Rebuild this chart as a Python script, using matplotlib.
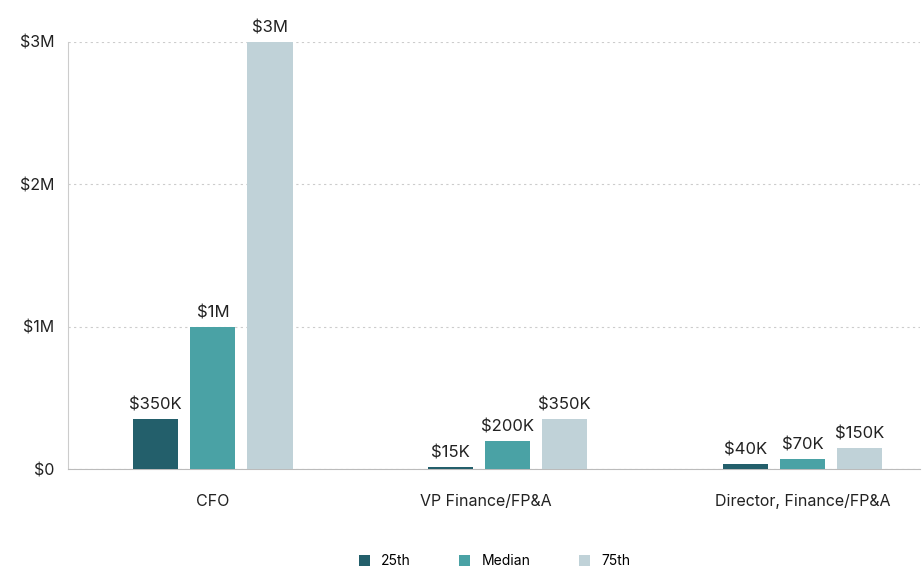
import matplotlib.pyplot as plt
import numpy as np

plt.rcParams["font.family"] = ["Inter", "DejaVu Sans"]

categories = ["CFO", "VP Finance/FP&A", "Director, Finance/FP&A"]
series_names = ["25th", "Median", "75th"]
p25 = [350_000, 15_000, 40_000]
median = [1_000_000, 200_000, 70_000]
p75 = [3_000_000, 350_000, 150_000]
value_labels = [["$350K", "$15K", "$40K"], ["$1M", "$200K", "$70K"], ["$3M", "$350K", "$150K"]]
yticks = [0, 1_000_000, 2_000_000, 3_000_000]
ytick_labels = ["$0", "$1M", "$2M", "$3M"]
label_x_shift = [0.0, -0.075, 0.0]
colors = ["#235f6b", "#4aa2a5", "#c0d2d8"]

fig = plt.figure(figsize=(9.24, 5.8), dpi=100)
ax = fig.add_axes([0.074, 0.191, 0.922, 0.737])

x = np.arange(len(categories))
width = 0.153
offset = 0.194
for i, (vals, name) in enumerate(zip([p25, median, p75], series_names)):
    pos = x + (i - 1) * offset
    ax.bar(pos, vals, width, color=colors[i], label=name, zorder=3, clip_on=False)
    for px, v, t in zip(pos, vals, value_labels[i]):
        ax.text(px, v + 45_000, t, ha="center", va="bottom", fontsize=12, color="#222222")

ax.set_xlim(-0.49, 2.40)
ax.set_ylim(0, 3_000_000)
ax.set_yticks(yticks, ytick_labels, fontsize=11.5, color="#222222")
ax.set_xticks(x + np.array(label_x_shift), categories, fontsize=11.5, color="#222222")
ax.tick_params(length=0, pad=10)
ax.tick_params(axis="x", pad=18)
ax.grid(axis="y", linestyle=(0, (2, 3)), color="#cccccc", linewidth=0.8, zorder=0)
for s in ["top", "right"]:
    ax.spines[s].set_visible(False)
ax.spines["left"].set_color("#cccccc")
ax.spines["bottom"].set_color("#bbbbbb")

ax.legend(loc="upper center", bbox_to_anchor=(0.5, -0.17), ncol=3, frameon=False,
          handlelength=0.8, handleheight=0.8, columnspacing=3.5, fontsize=10)

fig.savefig("out.png")
